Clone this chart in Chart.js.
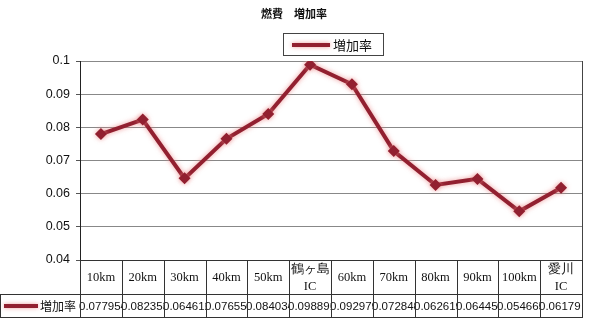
<!DOCTYPE html>
<html><head><meta charset="utf-8">
<script src="https://cdn.jsdelivr.net/npm/chart.js@4"></script>
<style>html,body{margin:0;padding:0;background:#fff}canvas{display:block}</style>
</head><body>
<canvas id="c" width="592" height="328"></canvas>
<script>
const chartTitle = '燃費　増加率';
const seriesName = '増加率';
const categories = ['10km', '20km', '30km', '40km', '50km', ['鶴ヶ島', 'IC'], '60km', '70km', '80km', '90km', '100km', ['愛川', 'IC']];
const values = [0.077954, 0.082353, 0.064612, 0.076555, 0.084034, 0.098891, 0.092979, 0.072848, 0.062619, 0.064455, 0.054665, 0.06179];
const yTicks = [0.04, 0.05, 0.06, 0.07, 0.08, 0.09, 0.1];

const LINE = '#922030';
const GLOW = 'rgba(235,130,130,0.8)';
const JP = '"Noto Sans CJK JP", "Liberation Sans", sans-serif';

function glowLine(ctx, x1, x2, y) {
  ctx.save();
  ctx.shadowColor = GLOW; ctx.shadowBlur = 4;
  ctx.strokeStyle = LINE; ctx.lineWidth = 4; ctx.lineCap = 'butt';
  ctx.beginPath(); ctx.moveTo(x1, y); ctx.lineTo(x2, y); ctx.stroke();
  ctx.restore();
}

const tablePlugin = {
  id: 'table',
  beforeDatasetsDraw(chart) {
    const ctx = chart.ctx;
    const a = chart.chartArea;
    // right border of plot area
    ctx.save();
    ctx.strokeStyle = '#444'; ctx.lineWidth = 1;
    ctx.beginPath();
    ctx.moveTo(Math.round(a.right) + 0.5, a.top); ctx.lineTo(Math.round(a.right) + 0.5, a.bottom);
    ctx.stroke();
    ctx.restore();
    ctx.save();
    ctx.shadowColor = GLOW; ctx.shadowBlur = 5;
  },
  afterDatasetsDraw(chart) {
    chart.ctx.restore();
  },
  afterDraw(chart) {
    const ctx = chart.ctx;
    const a = chart.chartArea;
    const xs = chart.scales.x;
    const n = categories.length;
    const w = (a.right - a.left) / n;
    const yTop = a.bottom, yMid = 294, yBot = 317;
    ctx.save();
    // title
    ctx.fillStyle = '#111';
    ctx.font = 'bold 11px ' + JP;
    ctx.textAlign = 'center'; ctx.textBaseline = 'middle';
    ctx.fillText(chartTitle, 294, 14);
    // legend box
    ctx.strokeStyle = '#444'; ctx.lineWidth = 1;
    ctx.strokeRect(283.5, 33.5, 100, 22);
    glowLine(ctx, 292, 330, 45);
    ctx.fillStyle = '#111';
    ctx.font = '13px ' + JP;
    ctx.textAlign = 'left';
    ctx.fillText(seriesName, 333, 45);
    // table lines
    ctx.strokeStyle = '#333'; ctx.lineWidth = 1;
    ctx.beginPath();
    ctx.moveTo(a.left, yTop + 0.5); ctx.lineTo(a.right, yTop + 0.5);
    ctx.moveTo(0, yMid + 0.5); ctx.lineTo(a.right, yMid + 0.5);
    ctx.moveTo(0, yBot + 0.5); ctx.lineTo(a.right, yBot + 0.5);
    ctx.moveTo(0.5, yMid); ctx.lineTo(0.5, yBot);
    for (let i = 0; i <= n; i++) {
      const x = Math.round(a.left + i * w) + 0.5;
      ctx.moveTo(x, yTop); ctx.lineTo(x, yBot + 1);
    }
    ctx.stroke();
    // category labels
    ctx.fillStyle = '#111';
    ctx.font = '12.5px "Liberation Serif", serif';
    ctx.textAlign = 'center'; ctx.textBaseline = 'middle';
    categories.forEach((c, i) => {
      const cx = xs.getPixelForValue(i);
      const cy = (yTop + yMid) / 2 + 1;
      if (Array.isArray(c)) {
        ctx.fillText(c[0], cx, cy - 8);
        ctx.fillText(c[1], cx, cy + 9);
      } else {
        ctx.fillText(c, cx, cy);
      }
    });
    // legend key in table
    glowLine(ctx, 4, 38, (yMid + yBot) / 2 + 0.5);
    ctx.fillStyle = '#111';
    ctx.font = '12px ' + JP;
    ctx.textAlign = 'left';
    ctx.fillText(seriesName, 40, (yMid + yBot) / 2 + 1);
    // values
    ctx.font = '11.5px "Liberation Sans", Arial, sans-serif';
    values.forEach((v, i) => {
      const x0 = Math.round(a.left + i * w);
      ctx.save();
      ctx.beginPath(); ctx.rect(x0 - 1, yMid + 1, w + 1, yBot - yMid - 1); ctx.clip();
      ctx.fillText(String(v), x0 - 1, (yMid + yBot) / 2 + 1);
      ctx.restore();
    });
    ctx.beginPath();
    for (let i = 0; i <= n; i++) {
      const x = Math.round(a.left + i * w) + 0.5;
      ctx.moveTo(x, yMid); ctx.lineTo(x, yBot + 1);
    }
    ctx.stroke();
    ctx.restore();
  }
};

new Chart(document.getElementById('c'), {
  type: 'line',
  data: {
    labels: categories,
    datasets: [{
      label: seriesName,
      data: values,
      borderColor: LINE,
      backgroundColor: LINE,
      borderWidth: 4,
      pointStyle: 'rectRot',
      pointRadius: 6,
      pointBorderWidth: 0,
      pointBackgroundColor: LINE,
      tension: 0
    }]
  },
  options: {
    responsive: false,
    animation: false,
    devicePixelRatio: 1,
    layout: { padding: { left: 0, right: 10, top: 61, bottom: 68 } },
    plugins: { legend: { display: false }, title: { display: false }, tooltip: { enabled: false } },
    scales: {
      x: {
        display: false,
        offset: true
      },
      y: {
        min: 0.04, max: 0.1,
        afterFit(s) { s.width = 80; },
        afterBuildTicks(s) { s.ticks = yTicks.map(v => ({ value: v })); },
        border: { color: '#222', width: 1 },
        grid: { color: '#888', lineWidth: 1, tickLength: 4, tickColor: '#555' },
        ticks: {
          padding: 6,
          color: '#111',
          font: { family: '"Liberation Sans", Arial, sans-serif', size: 12.5 },
          callback: v => String(Math.round(v * 100) / 100)
        }
      }
    }
  },
  plugins: [tablePlugin]
});
</script>
</body></html>
